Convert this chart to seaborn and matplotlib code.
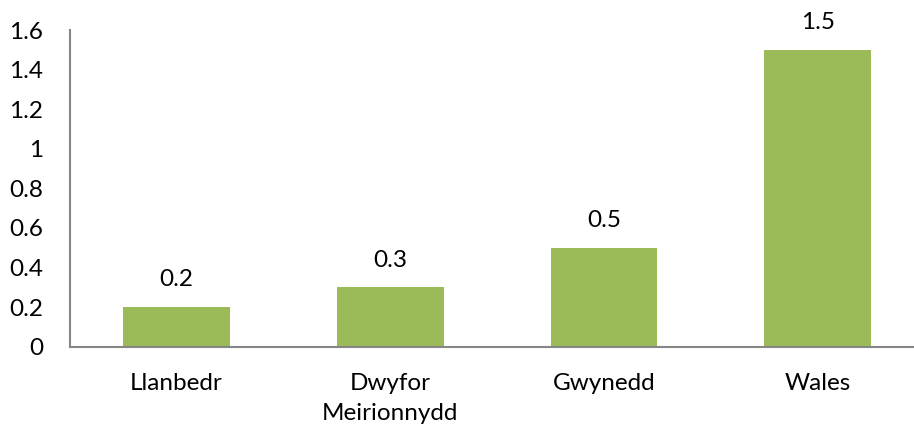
import matplotlib
matplotlib.use("Agg")
import matplotlib.pyplot as plt
import seaborn as sns
import pandas as pd

categories = ["Llanbedr", "Dwyfor\nMeirionnydd", "Gwynedd", "Wales"]
values = [0.2, 0.3, 0.5, 1.5]
y_ticks = [0, 0.2, 0.4, 0.6, 0.8, 1, 1.2, 1.4, 1.6]
y_tick_labels = ["0", "0.2", "0.4", "0.6", "0.8", "1", "1.2", "1.4", "1.6"]

sns.set_theme(style="white")
plt.rcParams["font.family"] = ["Lato", "DejaVu Sans"]

df = pd.DataFrame({"area": categories, "value": values})

W, H = 914, 425
fig = plt.figure(figsize=(W / 100, H / 100), dpi=100)
left, right, bottom, top = 69.6, 914, 346.7, 30
ax = fig.add_axes([left / W, 1 - bottom / H, (right - left) / W, (bottom - top) / H])

sns.barplot(data=df, x="area", y="value", color="#9BBB59", width=0.5,
            saturation=1, ax=ax)
for p in ax.patches:
    p.set_edgecolor("none")

ax.set_xlim(-0.5, 3.45)
ax.set_ylim(0, 1.6)
ax.set_yticks(y_ticks)
ax.set_yticklabels(y_tick_labels)
ax.set_xlabel("")
ax.set_ylabel("")

for spine in ["top", "right"]:
    ax.spines[spine].set_visible(False)
for spine in ["left", "bottom"]:
    ax.spines[spine].set_color("#868686")
    ax.spines[spine].set_linewidth(1.5)

ax.tick_params(axis="both", length=0, labelsize=17.5, colors="black")
ax.tick_params(axis="y", pad=19)
ax.tick_params(axis="x", pad=19)
for lbl in ax.get_xticklabels():
    lbl.set_linespacing(1.55)

for i, v in enumerate(values):
    ax.annotate(f"{v:g}", (i, v), xytext=(0, 12), textcoords="offset points",
                ha="center", va="bottom", fontsize=17.5, color="black")

fig.savefig("out.png", dpi=100)
